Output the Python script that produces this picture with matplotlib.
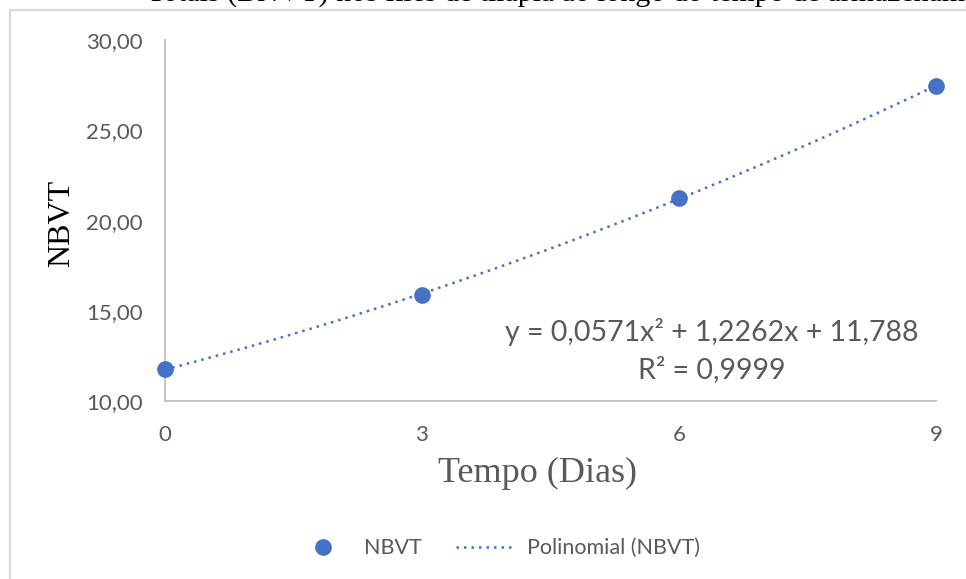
import matplotlib.pyplot as plt
import numpy as np
from matplotlib.patches import Rectangle

# dados
dias = [0, 3, 6, 9]
nbvt = [11.79, 15.90, 21.28, 27.45]
y_ticks = [10, 15, 20, 25, 30]
y_tick_labels = ['10,00', '15,00', '20,00', '25,00', '30,00']
x_ticks = [0, 3, 6, 9]
equacao = 'y = 0,0571x² + 1,2262x + 11,788'
r2 = 'R² = 0,9999'

azul = '#4472C4'
cinza = '#595959'
sans = ['Lato', 'DejaVu Sans']
serif = ['Liberation Serif', 'DejaVu Serif']

fig = plt.figure(figsize=(9.66, 5.79), dpi=100)
ax = fig.add_axes([0.1708, 0.3066, 0.798, 0.6243])

# tendencia polinomial de grau 2
coef = np.polyfit(dias, nbvt, 2)
xs = np.linspace(dias[0], dias[-1], 200)
ax.plot(xs, np.polyval(coef, xs), color=azul, lw=1.8, linestyle=(0, (1, 2)),
        label='Polinomial (NBVT)', zorder=2)
ax.plot(dias, nbvt, 'o', color=azul, markersize=11, label='NBVT', zorder=3, clip_on=False)

ax.set_xlim(0, 9)
ax.set_ylim(10, 30)
ax.set_yticks(y_ticks)
ax.set_yticklabels(y_tick_labels, family=sans, fontsize=16, color=cinza)
ax.set_xticks(x_ticks)
ax.set_xticklabels([str(t) for t in x_ticks], family=sans, fontsize=16, color=cinza)
ax.tick_params(axis='y', length=0, pad=16)
ax.tick_params(axis='x', length=0, pad=17)
for s in ['top', 'right']:
    ax.spines[s].set_visible(False)
for s in ['left', 'bottom']:
    ax.spines[s].set_color('#BFBFBF')
    ax.spines[s].set_linewidth(1.3)

ax.text(0.709, 0.192, equacao, transform=ax.transAxes, ha='center', va='center',
        family=sans, fontsize=20.5, color=cinza)
ax.text(0.709, 0.089, r2, transform=ax.transAxes, ha='center', va='center',
        family=sans, fontsize=20.5, color=cinza)

fig.text(62 / 966, 1 - 223 / 579, 'NBVT', rotation=90, ha='center', va='center',
         family=serif, fontsize=23, color='black')
fig.text(537 / 966, 1 - 473 / 579, 'Tempo (Dias)', ha='center', va='center',
         family=serif, fontsize=26, color=cinza)

handles, labels = ax.get_legend_handles_labels()
fig.legend(handles[::-1], labels[::-1], loc='center', bbox_to_anchor=(0.514, 0.053),
           ncol=2, frameon=False, prop={'family': sans, 'size': 15.5}, labelcolor=cinza,
           handlelength=2.8, columnspacing=1.6, handletextpad=0.5)

# moldura do grafico e titulo cortado
fig.add_artist(Rectangle((10 / 966, -0.2), 1.2, 1.2 - 9.5 / 579, transform=fig.transFigure,
                         fill=False, edgecolor='#D9D9D9', lw=1.6))
fig.text(147 / 966, 1 - 1 / 579, 'Totais (BNVT) nos filés de tilápia ao longo do tempo de armazenamento',
         ha='left', va='baseline', family=serif, fontsize=21.5, color='black')

fig.savefig('out.png', dpi=100)
